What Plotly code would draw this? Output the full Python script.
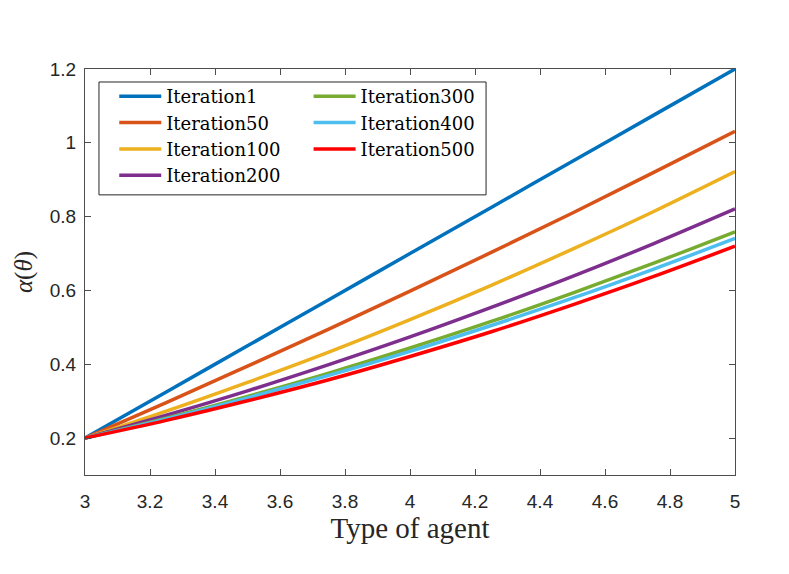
import plotly.graph_objects as go

# Data
x_vals = [3.0, 3.25, 3.5, 3.75, 4.0, 4.25, 4.5, 4.75, 5.0]

iter1 = [0.200, 0.325, 0.450, 0.575, 0.700, 0.825, 0.950, 1.075, 1.200]
iter50 = [0.200, 0.296, 0.395, 0.495, 0.598, 0.703, 0.810, 0.920, 1.031]
iter100 = [0.200, 0.273, 0.351, 0.433, 0.521, 0.614, 0.712, 0.814, 0.922]
iter200 = [0.200, 0.262, 0.328, 0.399, 0.474, 0.554, 0.638, 0.727, 0.821]
iter300 = [0.200, 0.254, 0.313, 0.376, 0.444, 0.516, 0.593, 0.674, 0.759]
iter400 = [0.200, 0.252, 0.309, 0.370, 0.435, 0.505, 0.579, 0.658, 0.741]
iter500 = [0.200, 0.248, 0.301, 0.358, 0.421, 0.488, 0.561, 0.638, 0.720]

series_names = ["Iteration1", "Iteration50", "Iteration100", "Iteration200",
                "Iteration300", "Iteration400", "Iteration500"]
series_values = [iter1, iter50, iter100, iter200, iter300, iter400, iter500]
colors = ["#0072BD", "#D95319", "#EDB120", "#7E2F8E", "#77AC30", "#4DBEEE", "#FF0000"]
legend_ids = ["legend", "legend", "legend", "legend", "legend2", "legend2", "legend2"]

x_ticks = [3, 3.2, 3.4, 3.6, 3.8, 4, 4.2, 4.4, 4.6, 4.8, 5]
y_ticks = [0.2, 0.4, 0.6, 0.8, 1.0, 1.2]

axis_color = "#4d4d4d"
text_color = "#262626"

fig = go.Figure()
for name, vals, col, lg in zip(series_names, series_values, colors, legend_ids):
    fig.add_trace(go.Scatter(
        x=x_vals, y=vals, mode="lines", name=name,
        line=dict(color=col, width=3.5, shape="spline", smoothing=1.0),
        legend=lg,
    ))

legend_font = dict(family="DejaVu Serif", size=18, color="#000000")

fig.update_layout(
    width=789, height=574, autosize=False,
    margin=dict(l=77, r=62, t=61, b=107),
    paper_bgcolor="white", plot_bgcolor="white",
    showlegend=True,
    legend=dict(x=0.045, y=0.978, xanchor="left", yanchor="top",
                bgcolor="rgba(0,0,0,0)", borderwidth=0, font=legend_font,
                itemwidth=42, tracegroupgap=0),
    legend2=dict(x=0.344, y=0.978, xanchor="left", yanchor="top",
                 bgcolor="rgba(0,0,0,0)", borderwidth=0, font=legend_font,
                 itemwidth=42, tracegroupgap=0),
    shapes=[dict(type="rect", xref="paper", yref="paper",
                 x0=0.0215, x1=0.617, y0=0.690, y1=0.968,
                 line=dict(color=text_color, width=1), fillcolor="white",
                 layer="below")],
    xaxis=dict(
        range=[3, 5], tickvals=x_ticks, ticks="inside", ticklen=6,
        tickcolor=axis_color, showline=True, linecolor=axis_color, linewidth=1,
        mirror="ticks", showgrid=False, zeroline=False,
        tickfont=dict(family="Liberation Sans", size=19, color=text_color),
        ticklabelstandoff=9,
        title=dict(text="Type of agent", standoff=3,
                   font=dict(family="Liberation Serif", size=29, color=text_color)),
    ),
    yaxis=dict(
        range=[0.1, 1.2], tickvals=y_ticks, ticks="inside", ticklen=6,
        tickcolor=axis_color, showline=True, linecolor=axis_color, linewidth=1,
        mirror="ticks", showgrid=False, zeroline=False,
        tickfont=dict(family="Liberation Sans", size=19, color=text_color),
        ticklabelstandoff=4,
        title=dict(text="<i>α</i>(<i>θ</i>)", standoff=10,
                   font=dict(family="Liberation Serif", size=25, color=text_color)),
    ),
)

fig.write_html("out.html")
